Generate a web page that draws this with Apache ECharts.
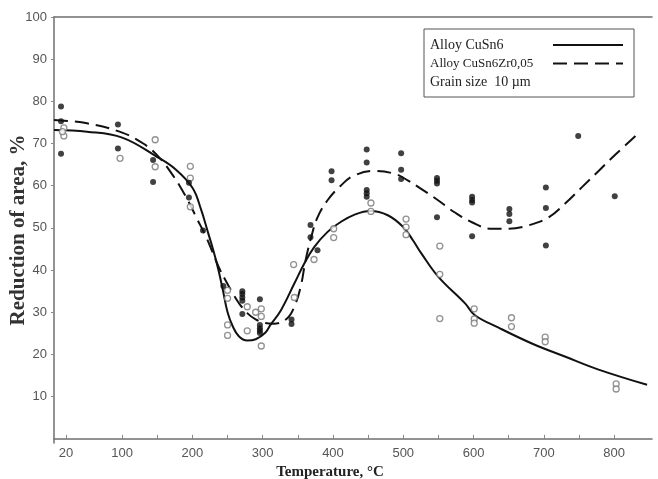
<!DOCTYPE html>
<html>
<head>
<meta charset="utf-8">
<script src="https://cdn.jsdelivr.net/npm/echarts@6/dist/echarts.min.js"></script>
<style>
html, body { margin: 0; padding: 0; background: #fff; }
#chart { width: 658px; height: 479px; }
</style>
</head>
<body>
<div id="chart"></div>
<script>
// axis ticks / labels
var xTickValues = [20, 100, 150, 200, 250, 300, 350, 400, 450, 500, 550, 600, 650, 700, 750, 800];
var xLabelValues = [20, 100, 200, 300, 400, 500, 600, 700, 800];
var yLabelValues = [10, 20, 30, 40, 50, 60, 70, 80, 90, 100];

// fitted curve, Alloy CuSn6 (solid)
var cusn6CurveT = [3, 50, 100, 150, 175, 200, 212, 222, 230, 237, 243, 250, 257, 266, 278, 290, 304, 311, 326, 345, 359, 373, 392, 411, 430, 453, 478, 500, 514, 526, 550, 588, 602, 635, 683, 730, 778, 847];
var cusn6CurveV = [73.2, 72.8, 71.4, 66.8, 64.0, 59.5, 54.5, 49.0, 44.5, 40.0, 35.5, 30.0, 26.8, 24.3, 23.3, 23.6, 25.2, 27.0, 30.5, 36.8, 41.5, 45.4, 49.0, 51.4, 53.1, 54.0, 53.0, 50.2, 47.0, 43.9, 38.4, 32.1, 29.3, 26.4, 22.6, 19.5, 16.4, 12.8];

// fitted curve, Alloy CuSn6Zr0,05 (dashed)
var zrCurveT = [3, 50, 100, 130, 150, 170, 190, 207, 219, 228, 238, 247, 257, 266, 278, 290, 302, 316, 335, 345, 354, 361, 369, 378, 392, 411, 430, 459, 488, 507, 526, 550, 573, 597, 626, 650, 678, 707, 730, 754, 778, 802, 838];
var zrCurveV = [75.6, 74.8, 72.6, 70.0, 67.2, 63.0, 57.6, 52.0, 48.0, 44.5, 40.5, 37.6, 34.6, 32.2, 29.8, 28.3, 27.5, 27.3, 28.6, 31.3, 36.0, 42.3, 47.8, 52.5, 56.5, 60.0, 62.4, 63.5, 62.8, 61.2, 59.2, 56.5, 53.7, 51.4, 49.8, 49.8, 50.6, 52.5, 55.7, 59.6, 63.5, 67.4, 72.9];

// measured points, CuSn6 (open circles)
var cusn6PtsT = [17, 17, 15, 97, 147, 147, 197, 197, 197, 250, 250, 250, 250, 278, 278, 290, 298, 298, 298, 344, 345, 373, 401, 401, 454, 454, 504, 504, 504, 552, 552, 552, 601, 601, 601, 654, 654, 702, 702, 803, 803];
var cusn6PtsV = [73.7, 71.8, 72.8, 66.5, 70.9, 64.5, 64.6, 61.8, 55.0, 35.2, 33.3, 27.0, 24.5, 31.3, 25.6, 30.0, 30.8, 29.0, 22.0, 41.3, 33.5, 42.5, 49.8, 47.7, 55.9, 53.9, 52.1, 50.2, 48.4, 45.7, 39.0, 28.5, 30.8, 28.4, 27.4, 28.7, 26.6, 24.1, 23.0, 13.0, 11.8];

// measured points, CuSn6Zr0,05 (filled dots)
var zrPtsT = [13, 13, 13, 94, 94, 144, 144, 195, 195, 215, 244, 271, 271, 271, 271, 271, 296, 296, 296, 296, 296, 341, 341, 368, 368, 378, 398, 398, 448, 448, 448, 448, 448, 497, 497, 497, 548, 548, 548, 548, 598, 598, 598, 598, 651, 651, 651, 703, 703, 703, 749, 801];
var zrPtsV = [78.8, 75.3, 67.6, 74.5, 68.8, 66.1, 60.9, 60.7, 57.2, 49.4, 36.2, 35.0, 34.3, 33.5, 32.7, 29.6, 33.1, 27.0, 26.2, 25.6, 25.1, 28.3, 27.2, 50.7, 47.8, 44.7, 63.4, 61.3, 68.6, 65.5, 59.0, 58.2, 57.4, 67.7, 63.8, 61.6, 61.8, 61.2, 60.5, 52.5, 57.4, 56.6, 56.0, 48.0, 54.5, 53.3, 51.6, 59.6, 54.7, 45.8, 71.8, 57.5];

function pairs(xs, ys) {
  return xs.map(function (x, i) { return [x, ys[i]] })
}

var axisColor = '#6f6f6f'
var serif = '"Liberation Serif", "DejaVu Serif", serif'
var sans = '"Liberation Sans", Arial, sans-serif'

var option = {
  backgroundColor: '#fff',
  animation: false,
  grid: { left: 54, right: 6, top: 17, bottom: 36, outerBoundsMode: 'none', containLabel: false },
  legend: {
    orient: 'vertical',
    left: 424,
    top: 29,
    align: 'right',
    itemWidth: 70,
    itemHeight: 14,
    itemGap: 5,
    padding: [9, 10, 8, 6],
    borderColor: '#555',
    borderWidth: 1,
    selectedMode: false,
    itemStyle: { opacity: 0 },
    textStyle: {
      fontFamily: serif,
      color: '#222',
      rich: {
        big: { fontFamily: serif, fontSize: 14, color: '#222', width: 118, align: 'left' },
        small: { fontFamily: serif, fontSize: 13, color: '#222', width: 118, align: 'left' }
      }
    },
    formatter: function (name) {
      return (name === 'Alloy CuSn6Zr0,05' ? '{small|' : '{big|') + name + '}'
    },
    data: [
      { name: 'Alloy CuSn6' },
      { name: 'Alloy CuSn6Zr0,05' },
      { name: 'Grain size  10 µm', icon: 'none' }
    ]
  },
  xAxis: [{
    type: 'value',
    min: 3,
    max: 854,
    name: 'Temperature, °C',
    nameLocation: 'middle',
    nameGap: 22,
    nameMoveOverlap: false,
    nameTextStyle: { fontFamily: serif, fontWeight: 'bold', fontSize: 15, color: '#222', padding: [0, 46, 0, 0] },
    axisLine: { lineStyle: { color: axisColor, width: 1.5 } },
    axisTick: { inside: true, length: 4, customValues: xTickValues, lineStyle: { color: '#888' } },
    axisLabel: { customValues: xLabelValues, fontFamily: sans, fontSize: 13, color: '#555', margin: 4 },
    splitLine: { show: false }
  }, {
    type: 'value',
    position: 'top',
    min: 3,
    max: 854,
    axisLine: { show: true, lineStyle: { color: axisColor, width: 1.5 } },
    axisTick: { show: false },
    axisLabel: { show: false },
    splitLine: { show: false }
  }],
  yAxis: {
    type: 'value',
    min: -1,
    max: 100,
    name: 'Reduction of area, %',
    nameLocation: 'middle',
    nameGap: 25,
    nameMoveOverlap: false,
    nameTextStyle: { fontFamily: serif, fontWeight: 'bold', fontSize: 21, color: '#333' },
    axisLine: { show: true, lineStyle: { color: axisColor, width: 1.5 } },
    axisTick: { show: true, length: 3, customValues: yLabelValues, lineStyle: { color: '#888' } },
    axisLabel: { customValues: yLabelValues, fontFamily: sans, fontSize: 13, color: '#555', margin: 7 },
    splitLine: { show: false }
  },
  series: [
    {
      name: 'Alloy CuSn6',
      type: 'line',
      data: pairs(cusn6CurveT, cusn6CurveV),
      smooth: 0.4,
      symbol: 'none',
      lineStyle: { color: '#111', width: 2 },
      itemStyle: { color: '#111' },
      z: 3
    },
    {
      name: 'Alloy CuSn6Zr0,05',
      type: 'line',
      data: pairs(zrCurveT, zrCurveV),
      smooth: 0.4,
      symbol: 'none',
      lineStyle: { color: '#111', width: 2, type: [14, 7] },
      itemStyle: { color: '#111' },
      z: 3
    },
    {
      name: 'Grain size  10 µm',
      type: 'line',
      data: [],
      symbol: 'none',
      lineStyle: { opacity: 0 }
    },
    {
      name: 'CuSn6 points',
      type: 'scatter',
      data: pairs(cusn6PtsT, cusn6PtsV),
      symbol: 'circle',
      symbolSize: 6,
      itemStyle: { color: '#fff', borderColor: '#777', borderWidth: 1.3 },
      z: 4
    },
    {
      name: 'CuSn6Zr0,05 points',
      type: 'scatter',
      data: pairs(zrPtsT, zrPtsV),
      symbol: 'circle',
      symbolSize: 6,
      itemStyle: { color: '#111' },
      z: 5
    }
  ]
}

var myChart = echarts.init(document.getElementById('chart'))
myChart.setOption(option)
</script>
</body>
</html>
